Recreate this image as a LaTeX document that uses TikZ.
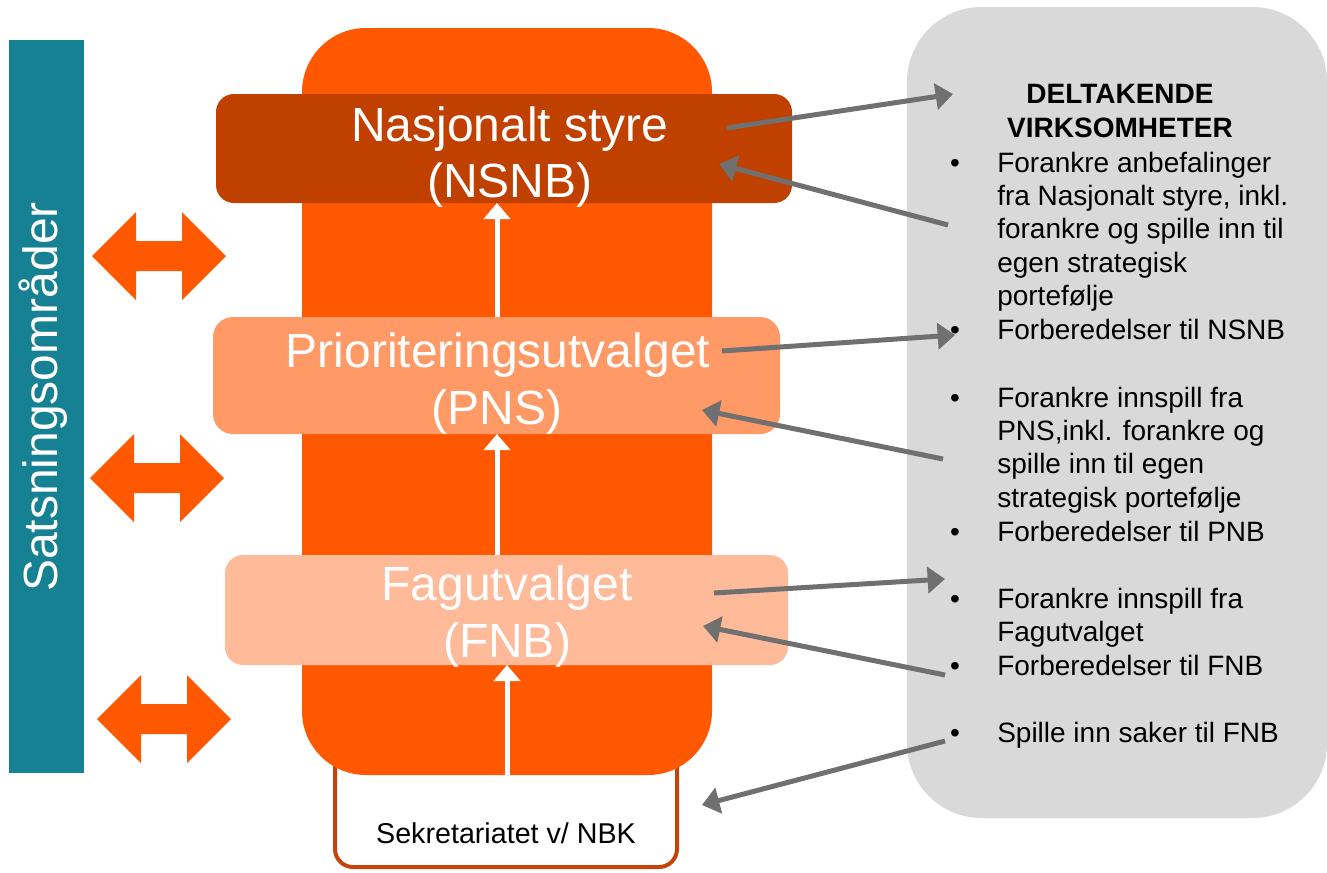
\documentclass[tikz,border=0pt]{standalone}
\usepackage{fontspec}
\setmainfont{Liberation Sans}
\usetikzlibrary{arrows.meta}
\definecolor{tealbar}{RGB}{21,129,146}
\definecolor{orangecol}{RGB}{255,88,0}
\definecolor{nsnbcol}{RGB}{192,64,0}
\definecolor{pnscol}{RGB}{255,153,102}
\definecolor{fnbcol}{RGB}{255,187,153}
\definecolor{greybox}{RGB}{217,217,217}
\definecolor{arrowgrey}{RGB}{112,112,112}
\definecolor{sekrborder}{RGB}{196,68,12}
\tikzset{
  boxshape/.style={inner sep=0pt, outer sep=0pt, rounded corners=13.5pt},
  bigtext/.style={text=white, font=\fontsize{36}{42}\selectfont, anchor=base, inner sep=0pt},
  righttext/.style={font=\fontsize{21}{25}\selectfont, anchor=base west, inner sep=0pt},
  bullettext/.style={font=\fontsize{21}{25}\selectfont, anchor=base, inner sep=0pt},
  headtext/.style={font=\fontsize{21}{25}\selectfont\bfseries, anchor=base, inner sep=0pt},
  greyarrow/.style={draw=arrowgrey, line width=3.75pt, -{Triangle[length=13pt,width=19.5pt]}},
  whitearrow/.style={draw=white, line width=3.75pt, -{Triangle[length=12pt,width=19.5pt]}},
  dbl/.pic={\fill[orangecol] (-67,0) -- (-23,-44) -- (-23,-15) -- (23,-15) -- (23,-44) -- (67,0) -- (23,44) -- (23,15) -- (-23,15) -- (-23,44) -- cycle;}
}
\begin{document}
\begin{tikzpicture}[x=0.75pt,y=-0.75pt]
\useasboundingbox (0,0) rectangle (1327,872);
% left teal bar
\node[boxshape, rounded corners=0pt, fill=tealbar, minimum width=56.25pt, minimum height=549.75pt] (teal) at (46.5,406.5) {};
\node[text=white, font=\fontsize{36}{42}\selectfont, rotate=90, anchor=base, inner sep=0pt] (sats) at (57,397) {Satsningsområder};
% double arrows
\pic at (159,256) {dbl};
\pic at (157,478) {dbl};
\pic at (164,719) {dbl};
% secretariat
\node[boxshape, rounded corners=13.5pt, fill=white, draw=sekrborder, line width=3pt, minimum width=256.5pt, minimum height=102.75pt] (sekr) at (506,798.5) {};
\node[font=\fontsize{21.5}{25}\selectfont, anchor=base, inner sep=0pt] (sekrtext) at (506,843) {Sekretariatet v/ NBK};
% orange column
\node[boxshape, rounded corners=48pt, fill=orangecol, minimum width=307.5pt, minimum height=560.25pt] (col) at (507,401.5) {};
% boxes
\node[boxshape, fill=nsnbcol, minimum width=432pt, minimum height=81.75pt] (nsnb) at (504,148.5) {};
\node[boxshape, rounded corners=15pt, fill=pnscol, minimum width=425.25pt, minimum height=87.75pt] (pns) at (496.5,375.5) {};
\node[boxshape, fill=fnbcol, minimum width=422.25pt, minimum height=82.5pt] (fnb) at (506.5,610) {};
\node[bigtext] (nsnb1) at (510,141) {Nasjonalt styre};
\node[bigtext] (nsnb2) at (510,197) {(NSNB)};
\node[bigtext] (pns1) at (498,367) {Prioriteringsutvalget};
\node[bigtext] (pns2) at (497,424) {(PNS)};
\node[bigtext] (fnb1) at (507,600) {Fagutvalget};
\node[bigtext] (fnb2) at (507,657) {(FNB)};
% white arrows
\coordinate (wa) at (497,0);
\coordinate (wb) at (507,0);
\draw[whitearrow] (pns.north -| wa) -- (nsnb.south -| wa);
\draw[whitearrow] (fnb.north -| wa) -- (pns.south -| wa);
\draw[whitearrow] (col.south -| wb) -- (fnb.south -| wb);
% grey box
\node[boxshape, rounded corners=56pt, fill=greybox, minimum width=315pt, minimum height=608.25pt] (grey) at (1117,412.5) {};
% grey arrows
\coordinate (a1s) at (727,128); \coordinate (a1e) at (953,94);
\coordinate (a2s) at (948,225); \coordinate (a2e) at (719,164);
\coordinate (a3s) at (722,351); \coordinate (a3e) at (955,335);
\coordinate (a4s) at (943,459); \coordinate (a4e) at (702,410);
\coordinate (a5s) at (714,593); \coordinate (a5e) at (945,579);
\coordinate (a6s) at (945,675); \coordinate (a6e) at (703,626);
\coordinate (a7s) at (945,741); \coordinate (a7e) at (702,805);
\draw[greyarrow] (a1s) -- (a1e);
\draw[greyarrow] (a2s) -- (a2e);
\draw[greyarrow] (a3s) -- (a3e);
\draw[greyarrow] (a4s) -- (a4e);
\draw[greyarrow] (a5s) -- (a5e);
\draw[greyarrow] (a6s) -- (a6e);
\draw[greyarrow] (a7s) -- (a7e);
% right text
\node[headtext] (h1) at (1120,103) {DELTAKENDE};
\node[headtext] (h2) at (1120,137) {VIRKSOMHETER};
\foreach \yy/\txt in {172/{Forankre anbefalinger}, 205/{fra Nasjonalt styre, inkl.}, 238/{forankre og spille inn til}, 272/{egen strategisk}, 305/{portefølje}, 339/{Forberedelser til NSNB}, 407/{Forankre innspill fra}, 440/{PNS,inkl. forankre og}, 473/{spille inn til egen}, 507/{strategisk portefølje}, 541/{Forberedelser til PNB}, 608/{Forankre innspill fra}, 641/{Fagutvalget}, 675/{Forberedelser til FNB}, 742/{Spille inn saker til FNB}}
  {\node[righttext] (r\yy) at (997,\yy) {\txt};}
\foreach \yy in {172,339,407,541,608,675,742}
  {\node[bullettext] (b\yy) at (955,\yy) {•};}
\end{tikzpicture}
\end{document}
